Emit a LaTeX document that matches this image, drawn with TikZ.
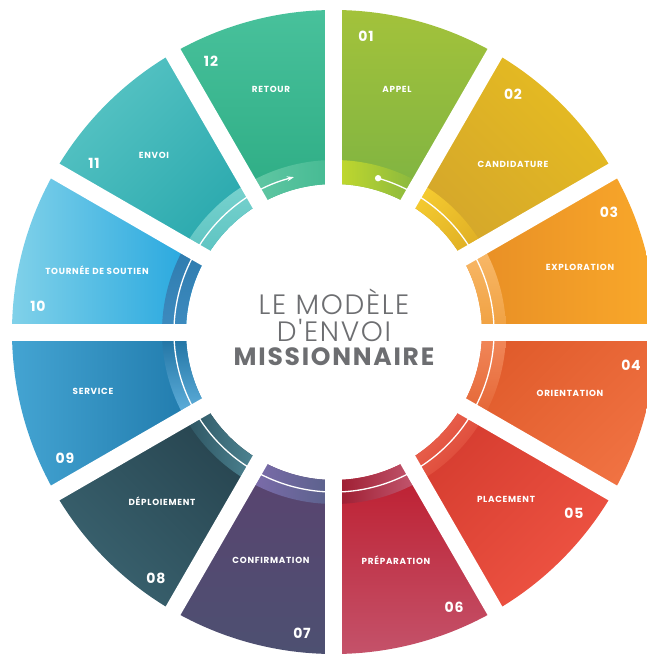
\documentclass[tikz,border=0pt]{standalone}
\usepackage{fontspec}
\setmainfont{Poppins}
\newfontfamily\thinfont{Poppins}[UprightFont={* Light}]
\usetikzlibrary{arrows.meta}
\definecolor{titlegray}{HTML}{6D6E71}
\definecolor{aA}{HTML}{A3C23B}\definecolor{aB}{HTML}{7DB342}\definecolor{aC}{HTML}{C4DA2C}\definecolor{aD}{HTML}{86B640}
\definecolor{bA}{HTML}{E6BC21}\definecolor{bB}{HTML}{D4A62B}\definecolor{bC}{HTML}{F5CB30}\definecolor{bD}{HTML}{E0B025}
\definecolor{cA}{HTML}{F9A82A}\definecolor{cB}{HTML}{E78D25}\definecolor{cC}{HTML}{F8B96A}\definecolor{cD}{HTML}{F0A040}
\definecolor{dA}{HTML}{E05B2B}\definecolor{dB}{HTML}{F07242}\definecolor{dC}{HTML}{F2895B}\definecolor{dD}{HTML}{E46535}
\definecolor{eA}{HTML}{D53C2F}\definecolor{eB}{HTML}{EF5443}\definecolor{eC}{HTML}{EE6A55}\definecolor{eD}{HTML}{D94232}
\definecolor{fA}{HTML}{BD1C2D}\definecolor{fB}{HTML}{C4526A}\definecolor{fC}{HTML}{9C1A2E}\definecolor{fD}{HTML}{C45A72}
\definecolor{gA}{HTML}{5A4370}\definecolor{gB}{HTML}{4D5071}\definecolor{gC}{HTML}{7D6CAC}\definecolor{gD}{HTML}{59618A}
\definecolor{hA}{HTML}{27444F}\definecolor{hB}{HTML}{3A6370}\definecolor{hC}{HTML}{4F8795}\definecolor{hD}{HTML}{2E5562}
\definecolor{iA}{HTML}{44A4D2}\definecolor{iB}{HTML}{1E78AA}\definecolor{iC}{HTML}{1D70A0}\definecolor{iD}{HTML}{62B2DE}
\definecolor{jA}{HTML}{80D1E9}\definecolor{jB}{HTML}{20A4DE}\definecolor{jC}{HTML}{2E7BAE}\definecolor{jD}{HTML}{3E8CC0}
\definecolor{kA}{HTML}{58C4C4}\definecolor{kB}{HTML}{29A8AD}\definecolor{kC}{HTML}{78D2CE}\definecolor{kD}{HTML}{5CC3C1}
\definecolor{lA}{HTML}{48C19B}\definecolor{lB}{HTML}{2DAC84}\definecolor{lC}{HTML}{62C7A4}\definecolor{lD}{HTML}{44BA92}
\newcommand\mysector[8]{%
  \path[top color=#3, bottom color=#4, shading angle=#5]
    (#1:148) arc[start angle=#1, end angle=#2, radius=148] -- (#2:322)
    arc[start angle=#2, end angle=#1, radius=322] -- cycle;
  \path[top color=#6, bottom color=#7, shading angle=#8]
    (#1:148) arc[start angle=#1, end angle=#2, radius=148] -- (#2:172)
    arc[start angle=#2, end angle=#1, radius=172] -- cycle;
}
\tikzset{
  lbl/.style={text=white, inner sep=0pt, font=\bfseries\addfontfeatures{LetterSpace=8}\fontsize{8.8}{10}\selectfont},
  num/.style={text=white, inner sep=0pt, font=\bfseries\addfontfeatures{LetterSpace=6}\fontsize{14}{16}\selectfont},
  gap/.style={white, line width=17},
  ttl/.style={text=titlegray, inner sep=0pt}
}
\begin{document}
\begin{tikzpicture}[x=1pt,y=1pt]
\useasboundingbox (-334,-322) rectangle (313,332);
\clip (-334,-322) rectangle (313,332);
% segments
\mysector{60}{90}{aA}{aB}{0}{aC}{aD}{90}
\mysector{30}{60}{bA}{bB}{-45}{bC}{bD}{45}
\mysector{0}{30}{cA}{cB}{-90}{cC}{cD}{0}
\mysector{-30}{0}{dA}{dB}{45}{dC}{dD}{0}
\mysector{-60}{-30}{eA}{eB}{45}{eC}{eD}{45}
\mysector{-90}{-60}{fA}{fB}{0}{fC}{fD}{90}
\mysector{-120}{-90}{gA}{gB}{0}{gC}{gD}{90}
\mysector{-150}{-120}{hA}{hB}{-45}{hC}{hD}{-90}
\mysector{180}{210}{iA}{iB}{90}{iC}{iD}{0}
\mysector{150}{180}{jA}{jB}{90}{jC}{jD}{0}
\mysector{120}{150}{kA}{kB}{45}{kC}{kD}{0}
\mysector{90}{120}{lA}{lB}{0}{lC}{lD}{90}
% flow line
\coordinate (start) at (74:160);
\draw[white, line width=1.3, -{Stealth[length=7,width=5]}] (start) arc[start angle=74, end angle=-255.5, radius=160];
\fill[white] (start) circle (3.2);
% gaps
\foreach \a in {0,30,...,150} \draw[gap] (\a:340) -- (\a+180:340);
% title
\node[ttl, font=\thinfont\addfontfeatures{LetterSpace=6}\fontsize{28}{30}\selectfont] (t1) at (0,30) {LE MODÈLE};
\node[ttl, font=\thinfont\addfontfeatures{LetterSpace=6}\fontsize{28}{30}\selectfont] (t2) at (0,2) {D'ENVOI};
\node[ttl, font=\bfseries\addfontfeatures{LetterSpace=7}\fontsize{25}{28}\selectfont] (t3) at (0,-25) {MISSIONNAIRE};
% numbers
\node[num] (n01) at (32,296) {01};
\node[num] (n02) at (179,238) {02};
\node[num] (n03) at (275,120) {03};
\node[num] (n04) at (297,-33) {04};
\node[num] (n05) at (240,-181) {05};
\node[num] (n06) at (120,-275) {06};
\node[num] (n07) at (-32,-301) {07};
\node[num] (n08) at (-178,-246) {08};
\node[num] (n09) at (-269,-126) {09};
\node[num] (n10) at (-296,26) {10};
\node[num] (n11) at (-240,169) {11};
\node[num] (n12) at (-123,271) {12};
% labels
\node[lbl] (l01) at (63,243) {APPEL};
\node[lbl] (l02) at (179,168) {CANDIDATURE};
\node[lbl] (l03) at (246,65) {EXPLORATION};
\node[lbl] (l04) at (236,-61) {ORIENTATION};
\node[lbl] (l05) at (172,-167) {PLACEMENT};
\node[lbl] (l06) at (62,-228) {PRÉPARATION};
\node[lbl] (l07) at (-63,-228) {CONFIRMATION};
\node[lbl] (l08) at (-172,-169) {DÉPLOIEMENT};
\node[lbl] (l09) at (-241,-59) {SERVICE};
\node[lbl] (l10) at (-237,62) {TOURNÉE DE SOUTIEN};
\node[lbl] (l11) at (-180,177) {ENVOI};
\node[lbl] (l12) at (-63,243) {RETOUR};
\end{tikzpicture}
\end{document}
